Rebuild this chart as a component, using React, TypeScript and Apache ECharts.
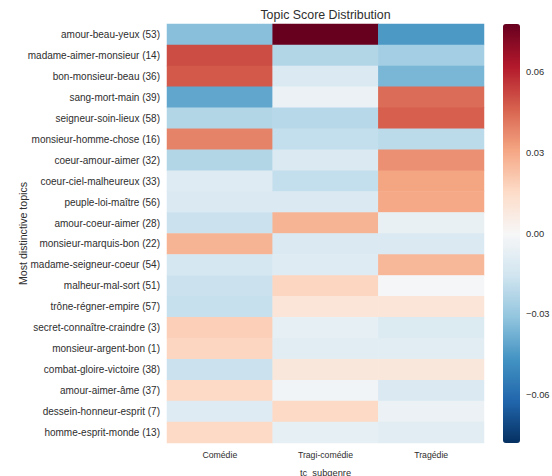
import React, { useEffect, useRef } from "react";
import * as echarts from "echarts";

// Topics, listed top to bottom
const topics = [
  "amour-beau-yeux (53)",
  "madame-aimer-monsieur (14)",
  "bon-monsieur-beau (36)",
  "sang-mort-main (39)",
  "seigneur-soin-lieux (58)",
  "monsieur-homme-chose (16)",
  "coeur-amour-aimer (32)",
  "coeur-ciel-malheureux (33)",
  "peuple-loi-maître (56)",
  "amour-coeur-aimer (28)",
  "monsieur-marquis-bon (22)",
  "madame-seigneur-coeur (54)",
  "malheur-mal-sort (51)",
  "trône-régner-empire (57)",
  "secret-connaître-craindre (3)",
  "monsieur-argent-bon (1)",
  "combat-gloire-victoire (38)",
  "amour-aimer-âme (37)",
  "dessein-honneur-esprit (7)",
  "homme-esprit-monde (13)",
];

const subgenres = ["Comédie", "Tragi-comédie", "Tragédie"];

// Topic scores per subgenre, same order as topics
const comedie = [
  -0.033, 0.051, 0.048, -0.041, -0.023, 0.039, -0.023, -0.01, -0.012, -0.017,
  0.027, -0.014, -0.017, -0.018, 0.019, 0.017, -0.017, 0.016, -0.01, 0.016,
];
const tragicomedie = [
  0.078, -0.023, -0.012, -0.005, -0.022, -0.019, -0.012, -0.019, -0.012, 0.027,
  -0.012, -0.01, 0.017, 0.01, -0.007, -0.009, 0.009, -0.003, 0.016, -0.007,
];
const tragedie = [
  -0.045, -0.027, -0.036, 0.044, 0.047, -0.021, 0.036, 0.031, 0.03, -0.006,
  -0.012, 0.026, -0.001, 0.01, -0.011, -0.009, 0.009, -0.012, -0.005, -0.009,
];

const colorTicks = [-0.06, -0.03, 0, 0.03, 0.06];
const scoreLimit = 0.078;

// RdBu reversed
const rdBuR = [
  "#053061", "#2166ac", "#4393c3", "#92c5de", "#d1e5f0", "#f7f7f7",
  "#fddbc7", "#f4a582", "#d6604d", "#b2182b", "#67001f",
];

const textColor = "#2e2e2e";
const font = "'Liberation Sans', Arial, sans-serif";

export default function App() {
  const ref = useRef<HTMLDivElement>(null);

  useEffect(() => {
    if (!ref.current) return;
    const chart = echarts.init(ref.current, null, { renderer: "svg" });

    const columns = [comedie, tragicomedie, tragedie];
    const data: [number, number, number][] = [];
    columns.forEach((col, x) => col.forEach((v, y) => data.push([x, y, v])));

    const minus = (v: number) => v.toFixed(2).replace("-", "\u2212");

    chart.setOption({
      animation: false,
      backgroundColor: "#ffffff",
      textStyle: { fontFamily: font },
      grid: [
        { left: 167, right: 68, top: 24, bottom: 33, outerBoundsMode: "none" },
        { left: 503, top: 24, width: 17, height: 419, outerBoundsMode: "none" },
      ],
      xAxis: [
        {
          type: "category",
          gridIndex: 0,
          data: subgenres,
          name: "tc_subgenre",
          nameLocation: "middle",
          nameGap: 25,
          nameMoveOverlap: false,
          nameTextStyle: { color: textColor, fontSize: 9.3, fontFamily: font },
          axisLine: { show: false },
          axisTick: { show: false },
          axisLabel: { color: textColor, fontSize: 8.7, margin: 7, fontFamily: font },
          splitLine: { show: false },
        },
        {
          type: "value",
          gridIndex: 1,
          show: false,
        },
      ],
      yAxis: [
        {
          type: "category",
          gridIndex: 0,
          inverse: true,
          data: topics,
          name: "Most distinctive topics",
          nameLocation: "middle",
          nameGap: 139,
          nameMoveOverlap: false,
          nameTextStyle: { color: textColor, fontSize: 10.6, fontFamily: font },
          axisLine: { show: false },
          axisTick: { show: false },
          axisLabel: { color: textColor, fontSize: 10, margin: 7, fontFamily: font },
          splitLine: { show: false },
        },
        {
          type: "value",
          gridIndex: 1,
          position: "right",
          min: -scoreLimit,
          max: scoreLimit,
          axisLine: { show: false },
          axisTick: { show: false },
          splitLine: { show: false },
          axisLabel: {
            color: textColor,
            fontSize: 9.3,
            margin: 6,
            fontFamily: font,
            customValues: colorTicks,
            formatter: (v: number) => minus(v),
          },
        },
      ],
      visualMap: {
        type: "continuous",
        seriesIndex: 0,
        min: -scoreLimit,
        max: scoreLimit,
        orient: "vertical",
        left: 503,
        top: 24,
        itemWidth: 17,
        itemHeight: 419,
        padding: 0,
        calculable: false,
        showLabel: false,
        text: ["", ""],
        inRange: { color: rdBuR },
      },
      graphic: [
        {
          type: "text",
          x: 325.5,
          y: 15,
          style: {
            text: "Topic Score Distribution",
            fill: textColor,
            fontSize: 12.4,
            fontFamily: font,
            textAlign: "center",
            textVerticalAlign: "middle",
          },
        },
      ],
      series: [
        {
          type: "heatmap",
          xAxisIndex: 0,
          yAxisIndex: 0,
          data,
          itemStyle: { borderWidth: 0 },
          emphasis: { disabled: true },
        },
      ],
    });

    return () => chart.dispose();
  }, []);

  return (
    <div
      ref={ref}
      style={{ position: "fixed", left: 0, top: 0, width: 552, height: 476 }}
    />
  );
}
